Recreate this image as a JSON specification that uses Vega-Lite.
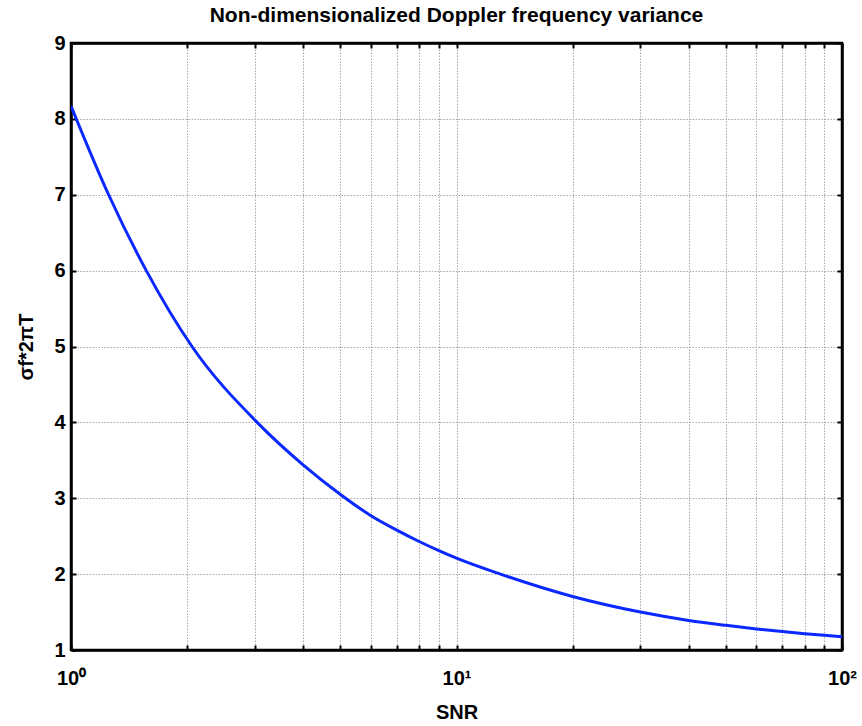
{
  "$schema": "https://vega.github.io/schema/vega-lite/v6.json",
  "width": 771,
  "height": 607,
  "autosize": {"type": "none"},
  "padding": {"left": 71, "top": 43, "right": 20, "bottom": 76},
  "background": "white",
  "title": {"text": "Non-dimensionalized Doppler frequency variance", "font": "Liberation Sans", "fontSize": 21, "fontWeight": "bold", "color": "black", "offset": 7},
  "config": {
    "view": {"stroke": "black", "strokeWidth": 2.5},
    "axis": {
      "domainColor": "black", "domainWidth": 2.5,
      "tickColor": "black", "tickWidth": 2, "tickSize": -5,
      "labelFont": "Liberation Sans", "labelFontSize": 20, "labelFontWeight": "bold", "labelColor": "black",
      "titleFont": "Liberation Sans", "titleFontSize": 20, "titleFontWeight": "bold", "titleColor": "black",
      "gridColor": "#a8a8a8", "gridDash": [1.5, 1.5], "gridWidth": 1, "gridOpacity": 1
    }
  },
  "data": {"values": [
    {"snr": 1, "v": 8.17},
    {"snr": 1.252, "v": 7.0},
    {"snr": 1.568, "v": 6.0},
    {"snr": 2.06, "v": 5.0},
    {"snr": 3.04, "v": 4.0},
    {"snr": 4, "v": 3.44},
    {"snr": 5, "v": 3.05},
    {"snr": 6, "v": 2.77},
    {"snr": 7, "v": 2.58},
    {"snr": 8, "v": 2.43},
    {"snr": 9, "v": 2.31},
    {"snr": 10, "v": 2.21},
    {"snr": 13, "v": 2.0},
    {"snr": 20, "v": 1.705},
    {"snr": 30, "v": 1.5},
    {"snr": 40, "v": 1.39},
    {"snr": 50, "v": 1.325},
    {"snr": 60, "v": 1.278},
    {"snr": 70, "v": 1.243},
    {"snr": 80, "v": 1.215},
    {"snr": 90, "v": 1.193},
    {"snr": 100, "v": 1.175}
  ]},
  "layer": [
    {
      "mark": {"type": "line", "color": "#0a28ff", "strokeWidth": 3, "interpolate": "monotone", "clip": true},
      "encoding": {
        "x": {"field": "snr", "type": "quantitative", "scale": {"type": "log", "domain": [1, 100], "nice": false},
          "axis": {"title": "SNR", "titlePadding": 14, "values": [1,2,3,4,5,6,7,8,9,10,20,30,40,50,60,70,80,90,100],
            "labelExpr": "datum.value == 1 ? '10⁰' : datum.value == 10 ? '10¹' : datum.value == 100 ? '10²' : ''",
            "labelPadding": 23, "grid": true, "labelFlush": false}},
        "y": {"field": "v", "type": "quantitative", "scale": {"domain": [1, 9], "nice": false},
          "axis": {"title": "σf*2πT", "values": [1,2,3,4,5,6,7,8,9], "labelPadding": 11, "titlePadding": 17, "grid": true}}
      }
    },
    {
      "mark": {"type": "line", "opacity": 0},
      "encoding": {
        "x": {"field": "snr", "type": "quantitative", "scale": {"type": "log", "domain": [1, 100], "nice": false},
          "axis": {"orient": "top", "title": null, "labels": false, "grid": false, "values": [1,2,3,4,5,6,7,8,9,10,20,30,40,50,60,70,80,90,100]}},
        "y": {"field": "v", "type": "quantitative", "scale": {"domain": [1, 9], "nice": false},
          "axis": {"orient": "right", "title": null, "labels": false, "grid": false, "values": [1,2,3,4,5,6,7,8,9]}}
      }
    }
  ],
  "resolve": {"axis": {"x": "independent", "y": "independent"}}
}
